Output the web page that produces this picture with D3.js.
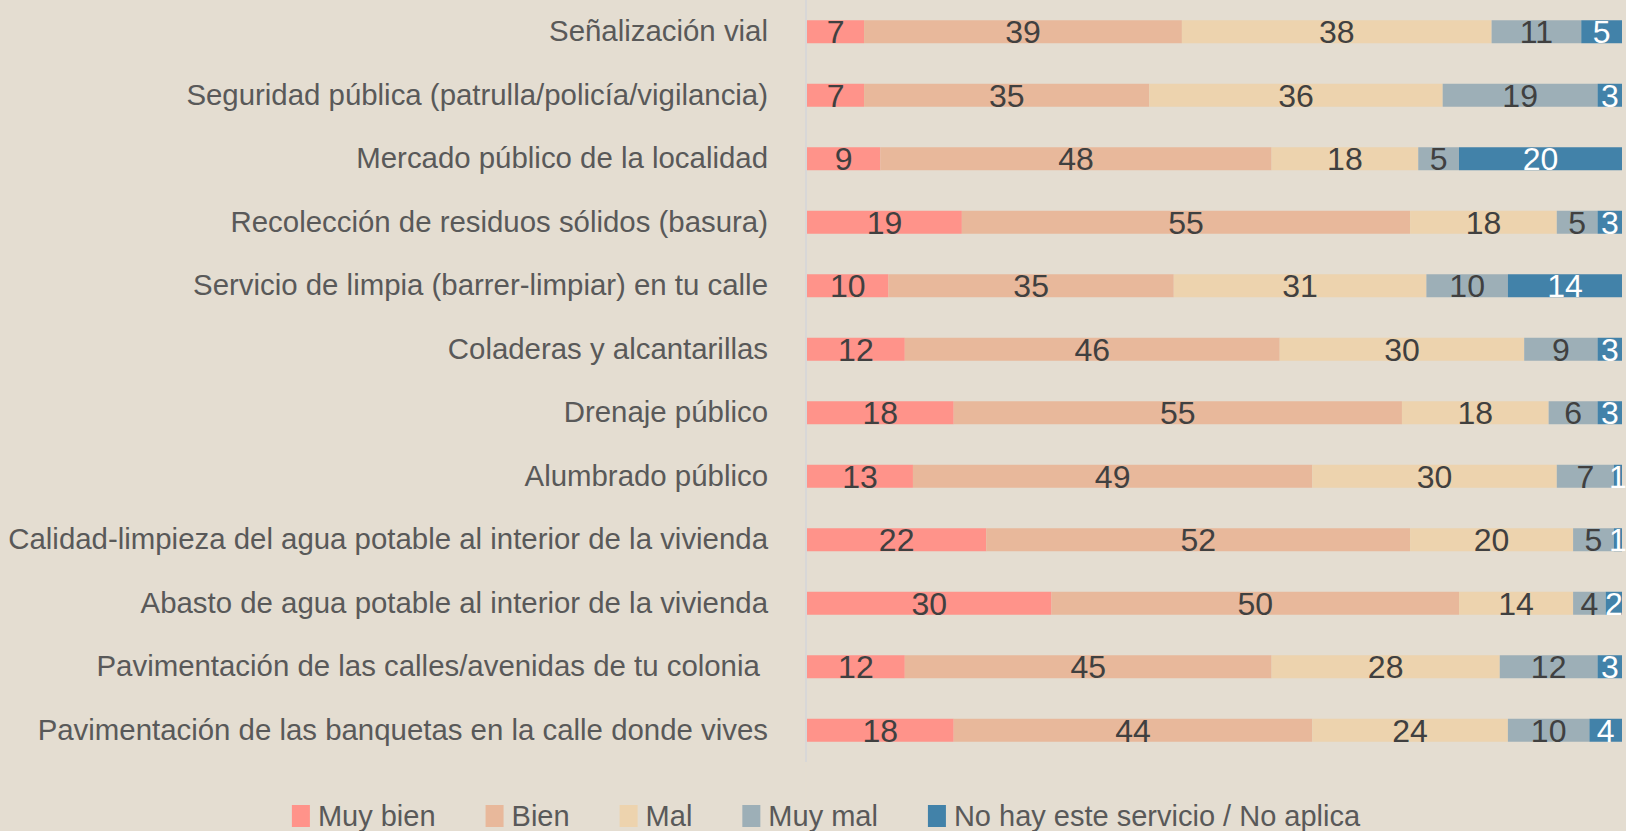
<!DOCTYPE html>
<html>
<head>
<meta charset="utf-8">
<script src="https://cdn.jsdelivr.net/npm/d3@7"></script>
<style>
  body { margin: 0; background: #e4ddd1; }
  svg { display: block; }
  .label { font-family: "Liberation Sans Narrow", "Liberation Sans", sans-serif; font-size: 29.4px; fill: #595959; }
  .value { font-family: "Liberation Sans Narrow", "Liberation Sans", sans-serif; font-size: 32px; }
  .legend text { font-family: "Liberation Sans Narrow", "Liberation Sans", sans-serif; font-size: 29px; fill: #595959; }
</style>
</head>
<body>
<svg></svg>
<script>
const services = [
  'Señalización vial',
  'Seguridad pública (patrulla/policía/vigilancia)',
  'Mercado público de la localidad',
  'Recolección de residuos sólidos (basura)',
  'Servicio de limpia (barrer-limpiar) en tu calle',
  'Coladeras y alcantarillas',
  'Drenaje público',
  'Alumbrado público',
  'Calidad-limpieza del agua potable al interior de la vivienda',
  'Abasto de agua potable al interior de la vivienda',
  'Pavimentación de las calles/avenidas de tu colonia ',
  'Pavimentación de las banquetas en la calle donde vives'
];
const seriesNames = ['Muy bien', 'Bien', 'Mal', 'Muy mal', 'No hay este servicio / No aplica'];
const muyBien = [7, 7, 9, 19, 10, 12, 18, 13, 22, 30, 12, 18];
const bien = [39, 35, 48, 55, 35, 46, 55, 49, 52, 50, 45, 44];
const mal = [38, 36, 18, 18, 31, 30, 18, 30, 20, 14, 28, 24];
const muyMal = [11, 19, 5, 5, 10, 9, 6, 7, 5, 4, 12, 10];
const noHay = [5, 3, 20, 3, 14, 3, 3, 1, 1, 2, 3, 4];
const colors = ['#ff938a', '#e8b89b', '#edd3ae', '#9dafb7', '#4282a9'];

const width = 1626;
const height = 831;
const margin = { top: 0, left: 807, right: 4 };

const rows = services.map((s, i) => ({
  service: s,
  values: [muyBien[i], bien[i], mal[i], muyMal[i], noHay[i]]
}));

const svg = d3.select('svg')
  .attr('width', width)
  .attr('height', height);

const x = d3.scaleLinear().domain([0, 100]).range([margin.left, width - margin.right]);
const y = d3.scaleBand().domain(services).range([0, 762])
  .paddingInner(0.638).paddingOuter(0.319);

// vertical axis line
svg.append('line')
  .attr('x1', margin.left - 1)
  .attr('x2', margin.left - 1)
  .attr('y1', 0)
  .attr('y2', 762)
  .attr('stroke', '#d5d5d8')
  .attr('stroke-width', 1.5);

const rowG = svg.selectAll('.row')
  .data(rows)
  .enter()
  .append('g')
  .attr('class', 'row')
  .attr('transform', d => `translate(0, ${y(d.service)})`);

rowG.append('text')
  .attr('class', 'label')
  .attr('x', 768)
  .attr('y', y.bandwidth() / 2 - 1)
  .attr('dy', '0.36em')
  .attr('text-anchor', 'end')
  .style('white-space', 'pre')
  .text(d => d.service);

const segs = rowG.selectAll('.seg')
  .data(d => {
    let acc = 0;
    return d.values.map((v, k) => {
      const s = { k, v, x0: acc, x1: acc + v };
      acc += v;
      return s;
    });
  })
  .enter()
  .append('g')
  .attr('class', 'seg');

segs.append('rect')
  .attr('x', d => x(d.x0))
  .attr('y', 0)
  .attr('width', d => x(d.x1) - x(d.x0))
  .attr('height', y.bandwidth())
  .attr('fill', d => colors[d.k]);

segs.append('text')
  .attr('class', 'value')
  .attr('x', d => (x(d.x0) + x(d.x1)) / 2)
  .attr('y', y.bandwidth() / 2 + 11.5)
  .attr('text-anchor', 'middle')
  .attr('fill', d => d.k === 4 ? '#ffffff' : '#404040')
  .text(d => d.v);

// legend
const legend = svg.append('g').attr('class', 'legend');
const items = legend.selectAll('g')
  .data(seriesNames)
  .enter()
  .append('g');

items.append('rect')
  .attr('width', 18)
  .attr('height', 22)
  .attr('y', 805)
  .attr('fill', (d, i) => colors[i]);

items.append('text')
  .attr('x', 26)
  .attr('y', 826)
  .text(d => d);

let pos = 0;
const offsets = [];
items.each(function () {
  offsets.push(pos);
  const w = d3.select(this).select('text').node().getComputedTextLength();
  pos += 26 + w + 50;
});
const total = pos - 50;
const start = 826 - total / 2;
items.attr('transform', (d, i) => `translate(${start + offsets[i]}, 0)`);
</script>
</body>
</html>
